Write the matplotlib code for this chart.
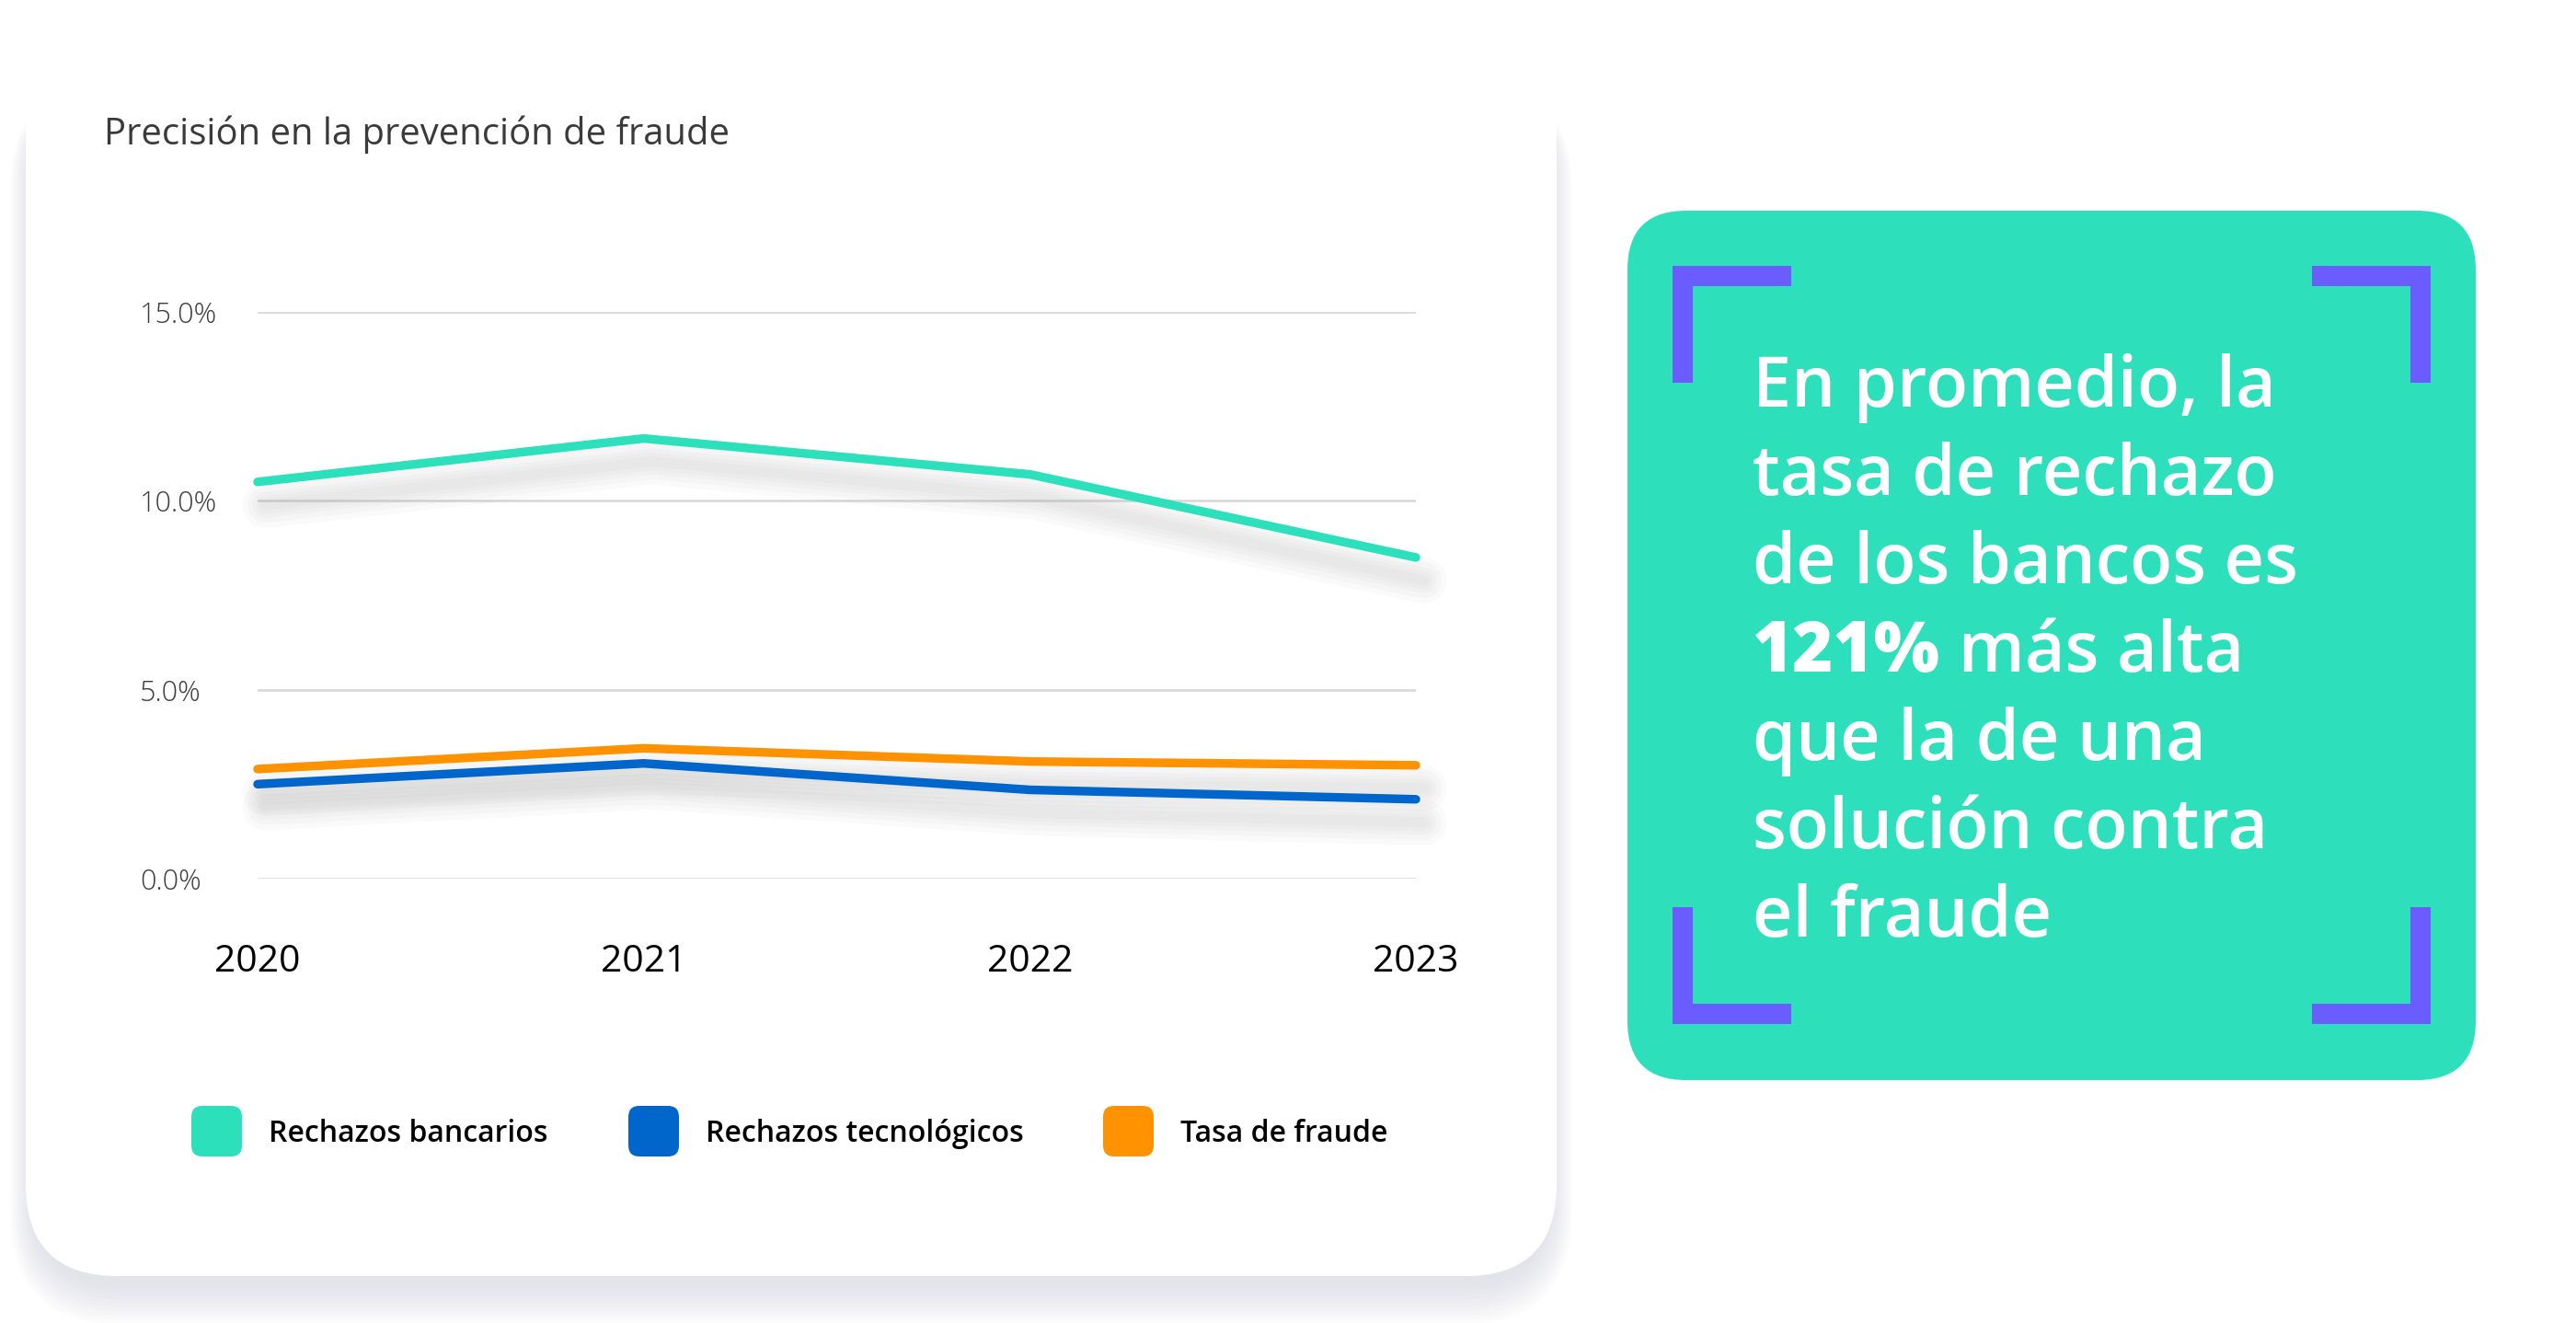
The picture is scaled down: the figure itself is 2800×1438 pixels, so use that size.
import numpy as np
import matplotlib.pyplot as plt
import matplotlib.patheffects as pe
from matplotlib.patches import FancyBboxPatch, Rectangle

plt.rcParams['font.family'] = ['Open Sans', 'DejaVu Sans']

# data
years = [2020, 2021, 2022, 2023]
rechazos_bancarios = [10.5, 11.65, 10.7, 8.5]
rechazos_tecnologicos = [2.5, 3.05, 2.35, 2.1]
tasa_fraude = [2.9, 3.45, 3.1, 3.0]
series_names = ['Rechazos bancarios', 'Rechazos tecnológicos', 'Tasa de fraude']
series_colors = ['#2be0bb', '#0066cc', '#ff9200']
yticks = [0, 5, 10, 15]
ytick_labels = ['0.0%', '5.0%', '10.0%', '15.0%']

title = 'Precisión en la prevención de fraude'
callout_lines = ['En promedio, la', 'tasa de rechazo', 'de los bancos es',
                 None, 'que la de una', 'solución contra', 'el fraude']
callout_bold = '121%'
callout_rest = ' más alta'

W, H = 2800, 1438
DPI = 200
fig = plt.figure(figsize=(W / DPI, H / DPI), dpi=DPI)

# background overlay in pixel coordinates (y downwards)
bg = fig.add_axes([0, 0, 1, 1], zorder=0)
bg.set_xlim(0, W)
bg.set_ylim(H, 0)
bg.axis('off')

# card shadow (stacked soft layers, mostly below the card)
cx0, cy0, cx1, cy1 = 28, 5, 1692, 1387
for i in range(10):
    grow = i * 2.5
    bg.add_patch(FancyBboxPatch((cx0 - grow + 6, cy0 + 80), cx1 - cx0 + 2 * grow - 12,
                                cy1 - cy0 - 68 + grow * 1.8,
                                boxstyle='round,pad=0,rounding_size=%d' % (100 + grow),
                                fc='#c5c8d6', ec='none', alpha=0.055))
bg.add_patch(FancyBboxPatch((cx0, cy0), cx1 - cx0, cy1 - cy0,
                            boxstyle='round,pad=0,rounding_size=100',
                            fc='white', ec='none'))

bg.text(113, 157, title, fontsize=14.4, color='#3a3a3a', va='baseline', ha='left')

# legend swatches
leg_x = [208, 683, 1199]
for x, name, col in zip(leg_x, series_names, series_colors):
    bg.add_patch(FancyBboxPatch((x, 1202), 55, 55,
                                boxstyle='round,pad=0,rounding_size=12',
                                fc=col, ec='none'))
    bg.text(x + 84, 1241, name, fontsize=11.5, fontweight='semibold',
            color='black', va='baseline', ha='left')

# teal callout box
bx0, by0, bx1, by1 = 1769, 229, 2691, 1174
bg.add_patch(FancyBboxPatch((bx0, by0), bx1 - bx0, by1 - by0,
                            boxstyle='round,pad=0,rounding_size=64',
                            fc='#2de0bb', ec='none'))
purple = '#6a5cff'
t, L, vlen = 22, 129, 127
x0, x1, y0, y1 = 1818, 2642, 289, 1113
corner_bars = [
    (x0, y0, L, t), (x0, y0, t, vlen),                  # top-left
    (x1 - L, y0, L, t), (x1 - t, y0, t, vlen),          # top-right
    (x0, y1 - t, L, t), (x0, y1 - vlen, t, vlen),       # bottom-left
    (x1 - L, y1 - t, L, t), (x1 - t, y1 - vlen, t, vlen),  # bottom-right
]
for (rx, ry, rw, rh) in corner_bars:
    bg.add_patch(Rectangle((rx, ry), rw, rh, fc=purple, ec='none'))

tx, base, step = 1905, 442, 96
fs_call = 27.2
for i, line in enumerate(callout_lines):
    y = base + i * step
    if line is None:
        b = bg.text(tx, y, callout_bold, fontsize=fs_call, fontweight='heavy',
                    color='white', va='baseline', ha='left')
        fig.canvas.draw()
        bb = b.get_window_extent()
        bg.text(tx + bb.width, y, callout_rest, fontsize=fs_call, fontweight='semibold',
                color='white', va='baseline', ha='left')
    else:
        bg.text(tx, y, line, fontsize=fs_call, fontweight='semibold',
                color='white', va='baseline', ha='left')

# line chart
gx0, gx1 = 280, 1539
gy_top, gy_bot = 339, 955
ax = fig.add_axes([gx0 / W, (H - gy_bot) / H, (gx1 - gx0) / W, (gy_bot - gy_top) / H], zorder=2)
ax.set_facecolor('none')
ax.set_xlim(years[0], years[-1])
ax.set_ylim(0, 15)
for s in ax.spines.values():
    s.set_visible(False)
for v in yticks:
    ax.axhline(v, color='#dadada', lw=1.0, zorder=0.5)

ax.set_yticks(yticks)
ax.set_yticklabels(ytick_labels, fontsize=11, color='#3c3c3c', fontweight='light')
for lab in ax.get_yticklabels():
    lab.set_ha('left')
ax.tick_params(axis='y', length=0, pad=(gx0 - 152) / DPI * 72)
ax.set_xticks(years)
ax.set_xticklabels([str(y) for y in years], fontsize=14.7, color='black')
ax.tick_params(axis='x', length=0, pad=(1025 - gy_bot) / DPI * 72)

all_series = [rechazos_bancarios, rechazos_tecnologicos, tasa_fraude]
shadow_fx = [pe.SimpleLineShadow(offset=(3, -9), shadow_color='#8a8a8a', alpha=0.04, linewidth=w)
             for w in (18, 14, 10, 7, 4)]
for vals in all_series:
    ax.plot(years, vals, color='grey', lw=3, zorder=1.5, clip_on=False,
            path_effects=shadow_fx, solid_capstyle='round')
for vals, col in zip([rechazos_bancarios, tasa_fraude, rechazos_tecnologicos],
                     [series_colors[0], series_colors[2], series_colors[1]]):
    ax.plot(years, vals, color=col, lw=3.4, zorder=3, clip_on=False,
            solid_capstyle='round', solid_joinstyle='round')

fig.savefig('out.png', dpi=DPI, facecolor='white')
